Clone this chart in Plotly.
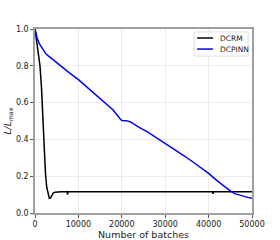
import plotly.graph_objects as go

# DCRM (black)
dcrm_x = [0, 400, 800, 1150, 1500, 1770, 2070, 2400, 2700, 3000, 3300, 3600, 3900, 4200, 4600, 5000,
          6000, 7000, 7400, 7500, 7600, 9000, 12000, 15000, 20000, 25000, 30000, 35000, 40000,
          40900, 41000, 41100, 45000, 50000]
dcrm_y = [1.0, 0.93, 0.86, 0.80, 0.68, 0.54, 0.34, 0.22, 0.14, 0.10, 0.08, 0.082, 0.095, 0.108, 0.113, 0.115,
          0.116, 0.115, 0.116, 0.100, 0.115, 0.116, 0.115, 0.116, 0.115, 0.116, 0.115, 0.116, 0.115,
          0.116, 0.104, 0.115, 0.116, 0.115]

# DCPINN (blue)
dcpinn_x = [0, 500, 1000, 1500, 2000, 2500, 3000, 4000, 5000, 6000, 7000, 8000, 10000, 12000, 14000,
            16000, 18000, 19500, 20000, 21000, 22000, 23000, 24000, 26000, 28000, 30000, 32000, 34000,
            36000, 38000, 40000, 42000, 44000, 45000, 46000, 47000, 48000, 49000, 50000]
dcpinn_y = [1.0, 0.95, 0.92, 0.90, 0.88, 0.865, 0.855, 0.835, 0.815, 0.795, 0.778, 0.76, 0.725, 0.685, 0.645,
            0.605, 0.56, 0.515, 0.503, 0.502, 0.495, 0.48, 0.465, 0.44, 0.41, 0.38, 0.35, 0.316,
            0.284, 0.25, 0.215, 0.175, 0.135, 0.12, 0.105, 0.097, 0.09, 0.085, 0.08]

x_ticks = [0, 10000, 20000, 30000, 40000, 50000]
y_ticks = [0.0, 0.2, 0.4, 0.6, 0.8, 1.0]

series_names = ["DCRM", "DCPINN"]
series_colors = ["black", "blue"]

fig = go.Figure()
fig.add_trace(go.Scatter(x=dcrm_x, y=dcrm_y, mode="lines", name=series_names[0],
                         line=dict(color=series_colors[0], width=1.5)))
fig.add_trace(go.Scatter(x=dcpinn_x, y=dcpinn_y, mode="lines", name=series_names[1],
                         line=dict(color=series_colors[1], width=1.5)))

axis_common = dict(showline=True, linecolor="#a0a0a0", linewidth=1.5, mirror=True,
                   showgrid=True, gridcolor="#ececec", gridwidth=1, zeroline=False,
                   ticks="outside", ticklen=3, tickcolor="#555", tickwidth=1,
                   tickfont=dict(size=8, color="#222"), automargin=False)

# manual compact legend (matplotlib-like)
shapes = [dict(type="rect", xref="paper", yref="paper", x0=0.733, x1=0.982, y0=0.853, y1=0.984,
               line=dict(color="#dddddd", width=1), fillcolor="white", layer="above")]
annotations = []
row_y = [0.951, 0.891]
for name, color, yy in zip(series_names, series_colors, row_y):
    shapes.append(dict(type="line", xref="paper", yref="paper", x0=0.747, x1=0.820, y0=yy, y1=yy,
                       line=dict(color=color, width=1.5), layer="above"))
    annotations.append(dict(xref="paper", yref="paper", x=0.843, y=yy, text=name, showarrow=False,
                            xanchor="left", yanchor="middle", font=dict(size=7.5, color="#222")))

fig.update_layout(
    width=280, height=240,
    margin=dict(l=35, r=28, t=29, b=27),
    paper_bgcolor="white", plot_bgcolor="white",
    font=dict(family="DejaVu Sans", color="#222"),
    showlegend=False,
    shapes=shapes, annotations=annotations,
    xaxis=dict(range=[0, 50000], tickvals=x_ticks, ticktext=[str(v) for v in x_ticks],
               title=dict(text="Number of batches", font=dict(size=9.5), standoff=2),
               **axis_common),
    yaxis=dict(range=[0, 1.0], tickvals=y_ticks, ticktext=[f"{v:.1f}" for v in y_ticks],
               title=dict(text="<i>L/L<sub>max</sub></i>", font=dict(size=9), standoff=3),
               **axis_common),
)

fig.write_html("out.html", config={"displayModeBar": False},
               post_script="document.body.style.margin='0';")
